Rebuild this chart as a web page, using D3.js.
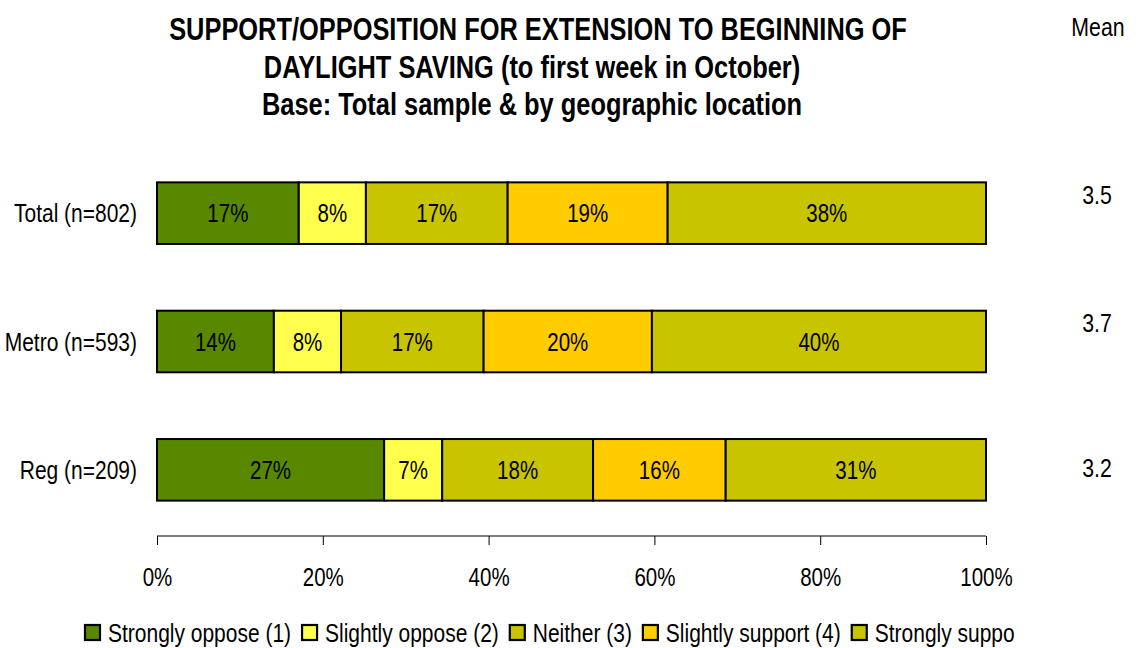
<!DOCTYPE html>
<html><head><meta charset="utf-8">
<script src="https://cdn.jsdelivr.net/npm/d3@7"></script>
<style>
body{margin:0;background:#fff;}
text{font-family:"Liberation Sans","Arial",sans-serif;}
</style></head>
<body><svg id="c" width="1138" height="648"></svg>
<script>
const categories = ["Total (n=802)", "Metro (n=593)", "Reg (n=209)"];
const seriesNames = ["Strongly oppose (1)", "Slightly oppose (2)", "Neither (3)", "Slightly support (4)", "Strongly support (5)"];
const seriesColors = ["#588800", "#ffff4d", "#c8c400", "#ffcc00", "#c8c400"];
const totalVals = [17.1, 8.1, 17.1, 19.3, 38.4];
const metroVals = [14.1, 8.1, 17.2, 20.3, 40.3];
const regVals = [27.4, 7.0, 18.2, 16.0, 31.4];
const shownLabels = [["17%","8%","17%","19%","38%"],["14%","8%","17%","20%","40%"],["27%","7%","18%","16%","31%"]];
const means = ["3.5", "3.7", "3.2"];
const ticks = [0, 20, 40, 60, 80, 100];
const titleLines = ["SUPPORT/OPPOSITION FOR EXTENSION TO BEGINNING OF", "DAYLIGHT SAVING (to first week in October)", "Base: Total sample & by geographic location"];

const NARROW = 0.82;
const values = [totalVals, metroVals, regVals];
const svg = d3.select("#c");
const x = d3.scaleLinear().domain([0, 100]).range([157, 986]);
const y = d3.scaleBand().domain(categories).range([149, 534]).paddingInner(0.52).paddingOuter(0.26);

function txt(parent, px, py, str, size, anchor, bold) {
  const t = parent.append("text")
    .attr("transform", `translate(${px},${py}) scale(${NARROW},1)`)
    .attr("text-anchor", anchor || "start").attr("font-size", size)
    .attr("fill", "#000").text(str);
  if (bold) t.attr("font-weight", "bold");
  return t;
}

// title
const titleX = [538, 532, 532];
titleLines.forEach((l, i) => txt(svg, titleX[i], 40 + i * 37.5, l, 31, "middle", true));
txt(svg, 1098, 36, "Mean", 26, "middle");

const meanOffsets = [22, 21, 38];
categories.forEach((cat, ci) => {
  const vals = values[ci];
  let cum = 0;
  const segs = vals.map((v, si) => { const s = {x0: cum, x1: cum + v, si}; cum += v; return s; });
  const g = svg.append("g");
  g.selectAll("rect").data(segs).join("rect")
    .attr("x", d => x(d.x0)).attr("width", d => x(d.x1) - x(d.x0))
    .attr("y", y(cat)).attr("height", y.bandwidth())
    .attr("fill", d => seriesColors[d.si]).attr("stroke", "#000").attr("stroke-width", 2);
  segs.forEach(d => txt(g, (x(d.x0) + x(d.x1)) / 2, y(cat) + y.bandwidth() / 2 + 9, shownLabels[ci][d.si], 25, "middle"));
  txt(svg, 137, y(cat) + y.bandwidth() / 2 + 9, cat, 25.6, "end");
  txt(svg, 1097, y(cat) + meanOffsets[ci], means[ci], 26, "middle");
});

// axis
const axis = d3.axisBottom(x).tickValues(ticks).tickSize(9).tickFormat(d => d + "%");
const ag = svg.append("g").attr("transform", "translate(0,536)").call(axis);
ag.select(".domain").attr("stroke", "#555").attr("stroke-width", 1.5).attr("d", "M157,0H986");
ag.selectAll(".tick line").attr("stroke", "#000");
ag.selectAll(".tick text").attr("font-size", 25).attr("fill", "#000").attr("dy", 0).attr("y", 0)
  .attr("font-family", "Liberation Sans, Arial, sans-serif")
  .attr("transform", `translate(0,50) scale(${NARROW},1)`);

// legend
const leg = svg.append("g");
let lx = 85;
seriesNames.forEach((name, i) => {
  const t = i === 4 ? "Strongly suppo" : name;
  leg.append("rect").attr("x", lx).attr("y", 625).attr("width", 15).attr("height", 15)
    .attr("fill", seriesColors[i]).attr("stroke", "#000").attr("stroke-width", 2.2);
  const tx = txt(leg, lx + 23, 642, t, 25.6, "start");
  lx += 23 + tx.node().getComputedTextLength() * NARROW + 11;
});
</script></body></html>
